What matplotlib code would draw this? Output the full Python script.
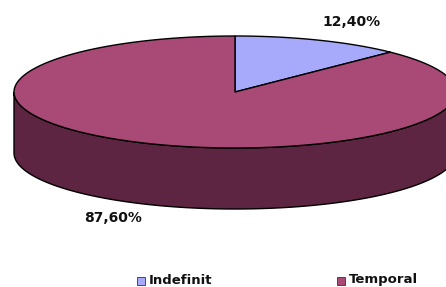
import matplotlib
matplotlib.use('Agg')
import matplotlib.pyplot as plt
import numpy as np
from matplotlib.patches import Polygon, Rectangle

labels = ['Indefinit', 'Temporal']
values = [12.4, 87.6]
pct_labels = ['12,40%', '87,60%']
top_colors = ['#A7AAFB', '#A94A76']
side_color = '#5E2542'

fig = plt.figure(figsize=(4.46, 2.87), dpi=100)
ax = fig.add_axes([0, 0, 1, 1])
ax.set_xlim(0, 446)
ax.set_ylim(287, 0)
ax.axis('off')

# pie geometry (pixels)
cx, cy, rx, ry, depth = 235, 92, 221, 56, 61


def pt(a, dz=0):
    a = np.radians(a)
    return cx + rx * np.cos(a), cy - ry * np.sin(a) + dz


# slice angles: start at 90 deg, go clockwise
fracs = np.array(values) / sum(values)
starts = 90 - 360 * np.concatenate([[0], np.cumsum(fracs)[:-1]])
ends = starts - 360 * fracs

# side wall, only the front half (-180..0 deg) is visible
for s, e in zip(starts, ends):
    a0, a1 = max(min(s, e), -180), min(max(s, e), 0)
    if a1 <= a0:
        continue
    ang = np.linspace(a0, a1, 120)
    up = [pt(a) for a in ang]
    dn = [pt(a, depth) for a in ang[::-1]]
    ax.add_patch(Polygon(up + dn, closed=True, fc=side_color, ec='black', lw=1.0))

# top faces
for s, e, c in zip(starts, ends, top_colors):
    ang = np.linspace(s, e, 200)
    pts = [(cx, cy)] + [pt(a) for a in ang]
    ax.add_patch(Polygon(pts, closed=True, fc=c, ec='black', lw=1.0, joinstyle='round'))

# percentage labels
ax.text(351, 22, pct_labels[0], ha='center', va='center', fontsize=10,
        fontweight='bold', color='#111111')
ax.text(113, 218, pct_labels[1], ha='center', va='center', fontsize=10,
        fontweight='bold', color='#111111')

# legend
leg_x = [137, 337]
for x, lab, c in zip(leg_x, labels, top_colors):
    ax.add_patch(Rectangle((x, 277), 8, 8, fc=c, ec='#333333', lw=0.6))
    ax.text(x + 12, 280, lab, ha='left', va='center', fontsize=9.5,
            fontweight='bold', color='#111111')

fig.savefig('out.png', dpi=100)
